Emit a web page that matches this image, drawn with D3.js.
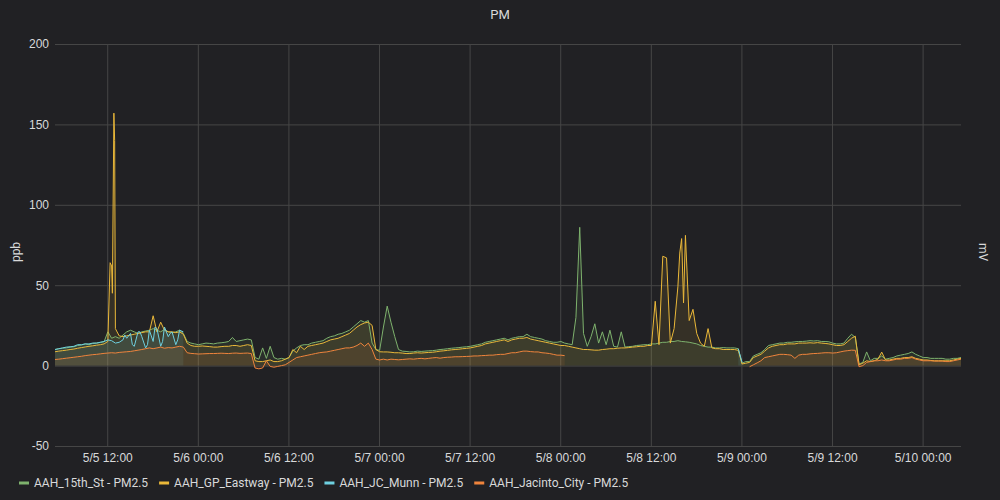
<!DOCTYPE html>
<html><head><meta charset="utf-8">
<script src="https://cdn.jsdelivr.net/npm/d3@7/dist/d3.min.js"></script>
<style>
html,body{margin:0;padding:0;background:#212124;}
svg{display:block;font-family:Roboto,"Helvetica Neue",Arial,sans-serif;}
</style>
</head><body>
<svg id="chart" width="1000" height="500"></svg>
<script>
// ---------- DATA ----------
const chartTitle = "PM";
const leftAxisLabel = "ppb";
const rightAxisLabel = "mV";
const seriesNames = ["AAH_15th_St - PM2.5", "AAH_GP_Eastway - PM2.5", "AAH_JC_Munn - PM2.5", "AAH_Jacinto_City - PM2.5"];
const seriesColors = ["#7EB26D", "#EAB839", "#6ED0E0", "#EF843C"];
const yTicks = [-50, 0, 50, 100, 150, 200];
const yTickLabels = ["-50", "0", "50", "100", "150", "200"];
const startTime = new Date(2021, 4, 5, 5, 5);   // 5/5 05:05
const spanHours = 120;
const stepHours = 0.5;                            // samples every 30 min

// AAH_15th_St (index 0..240)
const greenValues = [
  10,10.5,10.8,11,11.5,11.7,12.5,12.8,13.5,13,13.8,14,14.5,14.8,
  21,17,18,
  17,19,21,22,21,20,21,21.5,22,23,22,21,22.5,21,20.5,21,22,20,
  15,14,13.5,13,13.5,14,13.8,13.5,14,14.2,14.5,15,17.5,15,15.5,16,16.5,16,
  5,4,11,4.5,12,5,4,4.5,4,5,
  9,11,12.5,13,13,14,14.5,15,15.5,17,18,18.5,19.5,20,21,22,24,26,28,27,28,
  14,10,9.5,24,37,27,18,10,9,8.8,8.5,8.6,9,
  8.8,9,9.2,9.3,9.6,10,10.2,10.5,10.8,11,11.2,11.5,11.7,12,12.5,13,13.5,14.5,15,15.5,16,16.5,17,16,17,17.5,18,18,19.5,18,17.5,17,16.5,15.5,15,14.5,14.5,15,14,13.5,13,
  30,86,20,12,18,26,14,21,13,22,12,11.5,21,11.5,11.8,12,12.5,12.7,13,13,13.5,13.5,
  14,14.5,14.5,15,15,15.5,15,14.8,14.5,14,13.5,12.5,12,11.5,11.5,11,11,11.2,11,11,11,10.5,
  1.5,2.5,2.5,6,7,8,10,12.5,13,13.5,14,14,14.5,
  14.5,14.8,15,15,15.2,15.5,15.3,15.5,15,15,14.8,14,13.5,13.5,14,17,19.5,17.5,
  1,2,8.5,3,4.5,4.5,6,4,4.5,5,6,6.5,7,7.5,8.5,7,6,5,5,4.5,4.5,4.5,4.5,4,4,4.5,4.5,5
];
// AAH_GP_Eastway (index 0..240)
const yellowValues = [
  8.6,9,9.3,9.6,10,10.3,10.8,11.2,11.6,12,12.3,12.7,13,13.5,
  15,62,23,
  18.5,18,18.5,19,19.5,20,20.5,21,21,31,21,27,22,21,21,20.5,21,19.5,
  14,12.5,12,12,12.2,12,11.8,11.5,11.5,11.8,12,12,12.5,12.5,12,12.5,13,12.5,
  3,2.5,2.5,3,3.5,2.5,2.5,3,4,5,
  10,8,12,10,12,12.5,13,13.5,14,15,16,16.5,17,18,19,20,22,24,25.5,26.5,27,
  25,10,8.6,8.5,8.5,8.3,8,8,7.8,7.5,7.5,7.8,8,
  7.8,8,8.2,8.3,8.6,9,9.2,9.5,9.8,10,10.2,10.5,10.7,11,11.5,12,12.5,13.5,14,14.5,15,15.5,16,15,16,16.5,17,17,17.5,16.5,16,15.5,15,14.5,14,13.5,13,12.5,12.5,12,11.5,
  11,10.5,10,10,9.8,9.6,9.6,10,10.2,10.5,10.5,10.8,11,11,11.2,11.5,11.7,12,12,12.5,12.5,
  40,13,68,67,14,23,49,79,81,28,35,20,14,12,23,11,
  10.5,10.5,10,10,10,10,9.5,
  1,1.5,2,5,6,7,9,11,12,12.5,13,13,13.5,
  13.5,13.5,14,14,14,14.2,14,14.3,14,13.8,13.5,13,12.5,12.5,13,15,17,18.3,
  0.5,1.5,3,2.5,3,4,8.4,3.5,3.5,4,4.5,4.5,5,5,5.5,4.5,4,3.5,3.5,3.2,3,3,3,3,3,3.5,4,4.5
];
// extra readings between the 30-min samples: [hours from start, value]
const yellowExtra = [[7.3,64],[7.6,45],[7.8,157],[7.9,140],[82.75,70],[83.25,39]];
// AAH_JC_Munn: two runs
const cyanValuesA = [ // index 0..34
  10,10.5,11,11.5,11.7,12,13,13,13.5,13.5,14,14,14.5,15,16,15.5,14,14.5,16,17,20,12,21,18,11,22,15,23,12,24,18,21,13,22,21
];
const cyanStartB = 181;
const cyanValuesB = [10.5, 2];
const cyanExtra = [[9.25,19],[10.25,13],[11.25,21],[12.25,13],[13.25,24],[14.25,15],[15.25,20],[16.25,16]];
// AAH_Jacinto_City: two runs
const orangeValuesA = [ // index 0..135
  3.8,4,4.3,4.6,4.9,5.2,5.5,5.8,6.2,6.5,6.8,7,7.3,7.6,7.8,8,7.8,8.2,8.4,8.6,8.8,9.2,9.6,10,10.5,11,10.5,11,11.5,10.8,11.2,11,11.5,12,11.5,
  8,7.6,7.4,7.2,7.3,7.4,7.5,7.5,7.6,7.7,7.6,7.5,7.7,7.8,7.6,7.7,7.8,7.5,
  -1.5,-2,-1.5,3,-0.5,-1,-0.5,0,0.5,2,3.5,5,5.5,6,6.5,7,7.5,8,8.3,8.5,9,9.5,10,10.5,11,11,11.5,12.5,14,12,14,10,
  4,3.5,4,3.5,4,3.8,3.6,3.8,4,4.2,4,4.3,4.5,4.2,4.5,4.8,5,4.6,5,5.2,5.3,5.5,5.5,5.6,5.7,5.8,6,6,6.2,6.3,6.5,6.5,6.8,7,7,7.5,8,8,8.5,9,9,8.7,8.5,8.5,8,7.8,7.5,7,6.5,6.5,6.2
];
const orangeStartB = 184;
const orangeValuesB = [ // index 184..240
  -0.7,0.5,1.7,3,5,5.5,6,6.5,7,7,6.8,6.5,4.5,6.5,7,7,7.3,7.5,7.6,7.8,8,8,7.8,8,8.5,9,9.3,9.6,9.5,
  -0.7,0,2,2.5,3,3,3.5,3,3,3.5,4,4,4.5,4.5,5,4,3.5,3,3,3,2.8,2.8,2.8,2.5,2.5,3,3.5,4
];

// ---------- BUILD ----------
const hourMs = 3600000;
const toDate = h => new Date(startTime.getTime() + h * hourMs);
function buildSeries(runs, extras) {
  let pts = [];
  runs.forEach(([startIdx, vals], r) => {
    if (r > 0) pts.push({h: startIdx * stepHours - 0.01, v: null});
    vals.forEach((v, k) => pts.push({h: (startIdx + k) * stepHours, v}));
  });
  (extras || []).forEach(([h, v]) => pts.push({h, v}));
  pts.sort((a, b) => a.h - b.h);
  return pts.map(p => ({t: toDate(p.h), v: p.v}));
}
const series = [
  buildSeries([[0, greenValues]]),
  buildSeries([[0, yellowValues]], yellowExtra),
  buildSeries([[0, cyanValuesA], [cyanStartB, cyanValuesB]], cyanExtra),
  buildSeries([[0, orangeValuesA], [orangeStartB, orangeValuesB]])
];

// ---------- DRAW ----------
const W = 1000, H = 500;
const plot = {left: 55, right: 961, top: 44, bottom: 446};
const svg = d3.select("#chart");
svg.append("rect").attr("width", W).attr("height", H).attr("fill", "#212124");

const x = d3.scaleTime().domain([startTime, toDate(spanHours)]).range([plot.left, plot.right]);
const y = d3.scaleLinear().domain([-50, 200]).range([plot.bottom, plot.top]);

const textColor = "#d8d9da";
const gridColor = "#464646";

// grid + axes
const yAxis = d3.axisLeft(y).tickValues(yTicks)
  .tickFormat((d, i) => yTickLabels[i])
  .tickSize(-(plot.right - plot.left)).tickPadding(6);
const gy = svg.append("g").attr("transform", `translate(${plot.left},0)`).call(yAxis);
gy.select(".domain").remove();
gy.selectAll("line").attr("stroke", gridColor);
gy.selectAll("text").attr("fill", textColor).style("font-size", "12px");

const xAxis = d3.axisBottom(x).ticks(d3.timeHour.every(12))
  .tickFormat(d3.timeFormat("%-m/%-d %H:%M"))
  .tickSize(-(plot.bottom - plot.top)).tickPadding(7);
const gx = svg.append("g").attr("transform", `translate(0,${plot.bottom})`).call(xAxis);
gx.select(".domain").remove();
gx.selectAll("line").attr("stroke", gridColor);
gx.selectAll("text").attr("fill", textColor).style("font-size", "12px");

// clip
svg.append("clipPath").attr("id", "clip").append("rect")
  .attr("x", plot.left).attr("y", plot.top)
  .attr("width", plot.right - plot.left).attr("height", plot.bottom - plot.top);
const pg = svg.append("g").attr("clip-path", "url(#clip)");

const area = d3.area().defined(d => d.v != null)
  .x(d => x(d.t)).y0(y(0)).y1(d => y(d.v));
const line = d3.line().defined(d => d.v != null)
  .x(d => x(d.t)).y(d => y(d.v));

series.forEach((s, i) => {
  pg.append("path").datum(s).attr("d", area)
    .attr("fill", seriesColors[i]).attr("fill-opacity", 0.1);
});
series.forEach((s, i) => {
  pg.append("path").datum(s).attr("d", line)
    .attr("fill", "none").attr("stroke", seriesColors[i]).attr("stroke-width", 1);
});

// title & axis labels
svg.append("text").attr("x", 500).attr("y", 19).attr("text-anchor", "middle")
  .attr("fill", textColor).style("font-size", "13px").text(chartTitle);
svg.append("text").attr("transform", "translate(20,252) rotate(-90)").attr("text-anchor", "middle")
  .attr("fill", textColor).style("font-size", "12px").text(leftAxisLabel);
svg.append("text").attr("transform", "translate(979,252) rotate(90)").attr("text-anchor", "middle")
  .attr("fill", textColor).style("font-size", "12px").text(rightAxisLabel);

// legend
let lx = 19;
const ly = 483;
seriesNames.forEach((name, i) => {
  svg.append("rect").attr("x", lx).attr("y", ly - 1.5).attr("width", 10).attr("height", 3)
    .attr("fill", seriesColors[i]);
  const t = svg.append("text").attr("x", lx + 15).attr("y", ly).attr("dy", "0.35em")
    .attr("fill", textColor).style("font-size", "12px").text(name);
  lx += 15 + t.node().getComputedTextLength() + 11;
});
</script>
</body></html>
